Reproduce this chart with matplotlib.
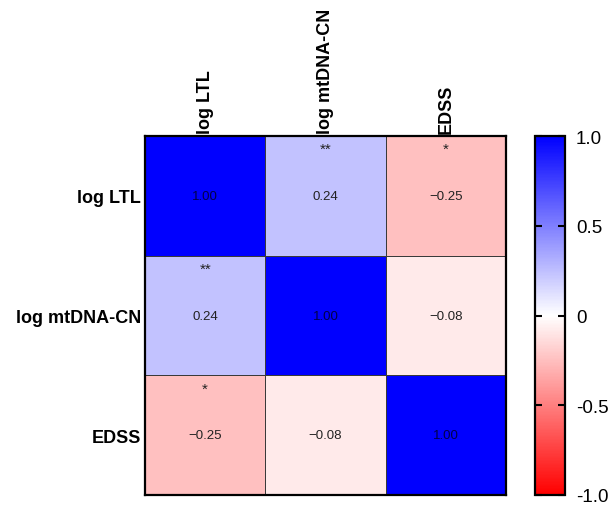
import numpy as np
import matplotlib
matplotlib.use("Agg")
import matplotlib.pyplot as plt
from matplotlib.colors import LinearSegmentedColormap

# datos
variables = ["log LTL", "log mtDNA-CN", "EDSS"]
corr = np.array([
    [1.00, 0.24, -0.25],
    [0.24, 1.00, -0.08],
    [-0.25, -0.08, 1.00],
])
estrellas = [
    ["", "**", "*"],
    ["**", "", ""],
    ["*", "", ""],
]
cbar_ticks = [1.0, 0.5, 0, -0.5, -1.0]
cbar_labels = ["1.0", "0.5", "0", "-0.5", "-1.0"]

plt.rcParams["font.family"] = ["Liberation Sans", "DejaVu Sans"]

cmap = LinearSegmentedColormap.from_list("rwb", ["#ff0000", "#ffffff", "#0000ff"])

fig = plt.figure(figsize=(6.08, 5.06), dpi=100)
ax = fig.add_axes([0.2385, 0.020, 0.594, 0.709])
cax = fig.add_axes([0.880, 0.020, 0.049, 0.709])

n = len(variables)
im = ax.pcolormesh(np.arange(n + 1), np.arange(n + 1), corr, cmap=cmap,
                   vmin=-1, vmax=1, edgecolor="#3a3a3a", linewidth=0.6)
ax.set_xlim(0, n)
ax.set_ylim(n, 0)

for i in range(n):
    for j in range(n):
        v = corr[i, j]
        color = "#00004a" if v > 0.9 else "#222222"
        txt = f"{v:.2f}".replace("-", "\u2212")
        ax.text(j + 0.5, i + 0.5, txt, ha="center", va="center",
                fontsize=9.5, color=color)
        if estrellas[i][j]:
            ax.text(j + 0.5, i + 0.11, estrellas[i][j], ha="center",
                    va="center", fontsize=11, color="#222222")

ax.set_xticks(np.arange(n) + 0.5)
ax.set_xticklabels(variables, rotation=90, fontsize=13, fontweight="bold")
ax.xaxis.tick_top()
ax.set_yticks(np.arange(n) + 0.5)
ax.set_yticklabels(variables, fontsize=13, fontweight="bold")
ax.tick_params(axis="y", length=0, pad=3)
ax.tick_params(axis="x", length=0, pad=2)
for s in ax.spines.values():
    s.set_linewidth(1.6)

cb = fig.colorbar(im, cax=cax)
cb.set_ticks(cbar_ticks)
cb.set_ticklabels(cbar_labels)
cb.outline.set_linewidth(1.6)
cax.tick_params(labelsize=13.5, length=5, width=1.5, direction="in",
                left=True, right=True, pad=8)

plt.savefig("out.png", dpi=100)
